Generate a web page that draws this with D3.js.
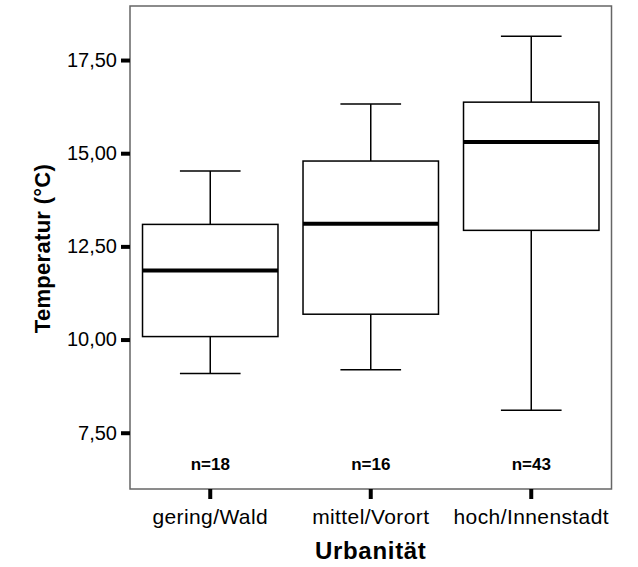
<!DOCTYPE html>
<html>
<head>
<meta charset="utf-8">
<script src="https://cdn.jsdelivr.net/npm/d3@7"></script>
<style>
  html, body { margin: 0; padding: 0; background: #fff; }
  svg { display: block; }
  text { font-family: Arial, "Liberation Sans", sans-serif; fill: #000; }
</style>
</head>
<body>
<svg id="chart" width="638" height="567"></svg>
<script>
const categories = ["gering/Wald", "mittel/Vorort", "hoch/Innenstadt"];
const counts = [18, 16, 43];
const whiskerLow = [9.09, 9.19, 8.10];
const q1 = [10.08, 10.68, 12.93];
const median = [11.85, 13.11, 15.30];
const q3 = [13.09, 14.79, 16.37];
const whiskerHigh = [14.52, 16.32, 18.14];
const yTicks = [7.5, 10, 12.5, 15, 17.5];
const yDomain = [5.99, 18.95];
const xTitle = "Urbanität";
const yTitle = "Temperatur (°C)";

const svg = d3.select("#chart");
const frame = { left: 130, right: 611.5, top: 6, bottom: 489 };
const FONT = "Arial, 'Liberation Sans', sans-serif";

const x = d3.scaleBand().domain(categories).range([frame.left, frame.right]).padding(0);
const y = d3.scaleLinear().domain(yDomain).range([frame.bottom, frame.top]);

const fmt = v => d3.format(".2f")(v).replace(".", ",");

// frame
svg.append("rect")
  .attr("x", frame.left).attr("y", frame.top)
  .attr("width", frame.right - frame.left).attr("height", frame.bottom - frame.top)
  .attr("fill", "none").attr("stroke", "#666").attr("stroke-width", 1.5);

// y axis
const yAxis = d3.axisLeft(y).tickValues(yTicks).tickFormat(fmt).tickSize(9).tickPadding(4);
const gy = svg.append("g").attr("transform", `translate(${frame.left},0)`).call(yAxis);
gy.select(".domain").remove();
gy.selectAll(".tick line").attr("stroke", "#000").attr("stroke-width", 4);
gy.selectAll(".tick text").attr("font-size", 20).attr("fill", "#222").style("font-family", FONT);

// x axis
const xAxis = d3.axisBottom(x).tickSize(10).tickPadding(10);
const gx = svg.append("g").attr("transform", `translate(0,${frame.bottom})`).call(xAxis);
gx.select(".domain").remove();
gx.selectAll(".tick line").attr("stroke", "#000").attr("stroke-width", 4);
gx.selectAll(".tick text").attr("font-size", 21).attr("fill", "#222")
  .style("font-family", FONT).style("letter-spacing", "0.4px");

// boxes
const bw = x.bandwidth() * 0.844;
const cw = x.bandwidth() * 0.378;
const data = categories.map((c, i) => ({
  c, n: counts[i], lo: whiskerLow[i], q1: q1[i], med: median[i], q3: q3[i], hi: whiskerHigh[i]
}));

const g = svg.append("g").selectAll("g").data(data).join("g")
  .attr("transform", d => `translate(${x(d.c) + x.bandwidth() / 2},0)`);

g.append("line").attr("x1", 0).attr("x2", 0)
  .attr("y1", d => y(d.hi)).attr("y2", d => y(d.q3))
  .attr("stroke", "#000").attr("stroke-width", 1.5);
g.append("line").attr("x1", 0).attr("x2", 0)
  .attr("y1", d => y(d.q1)).attr("y2", d => y(d.lo))
  .attr("stroke", "#000").attr("stroke-width", 1.5);
g.append("line").attr("x1", -cw / 2).attr("x2", cw / 2)
  .attr("y1", d => y(d.hi)).attr("y2", d => y(d.hi))
  .attr("stroke", "#000").attr("stroke-width", 1.5);
g.append("line").attr("x1", -cw / 2).attr("x2", cw / 2)
  .attr("y1", d => y(d.lo)).attr("y2", d => y(d.lo))
  .attr("stroke", "#000").attr("stroke-width", 1.5);
g.append("rect")
  .attr("x", -bw / 2).attr("width", bw)
  .attr("y", d => y(d.q3)).attr("height", d => y(d.q1) - y(d.q3))
  .attr("fill", "#fff").attr("stroke", "#000").attr("stroke-width", 1.5);
g.append("line").attr("x1", -bw / 2).attr("x2", bw / 2)
  .attr("y1", d => y(d.med)).attr("y2", d => y(d.med))
  .attr("stroke", "#000").attr("stroke-width", 4);

g.append("text")
  .attr("y", 470).attr("text-anchor", "middle")
  .attr("font-size", 17).attr("font-weight", "bold")
  .text(d => "n=" + d.n);

// titles
svg.append("text")
  .attr("x", (frame.left + frame.right) / 2).attr("y", 559)
  .attr("text-anchor", "middle").attr("font-size", 24).attr("font-weight", "bold")
  .style("letter-spacing", "0.7px")
  .text(xTitle);

svg.append("text")
  .attr("transform", `translate(50,${248.5}) rotate(-90)`)
  .attr("text-anchor", "middle").attr("font-size", 22).attr("font-weight", "bold")
  .style("letter-spacing", "0.3px")
  .text(yTitle);
</script>
</body>
</html>
